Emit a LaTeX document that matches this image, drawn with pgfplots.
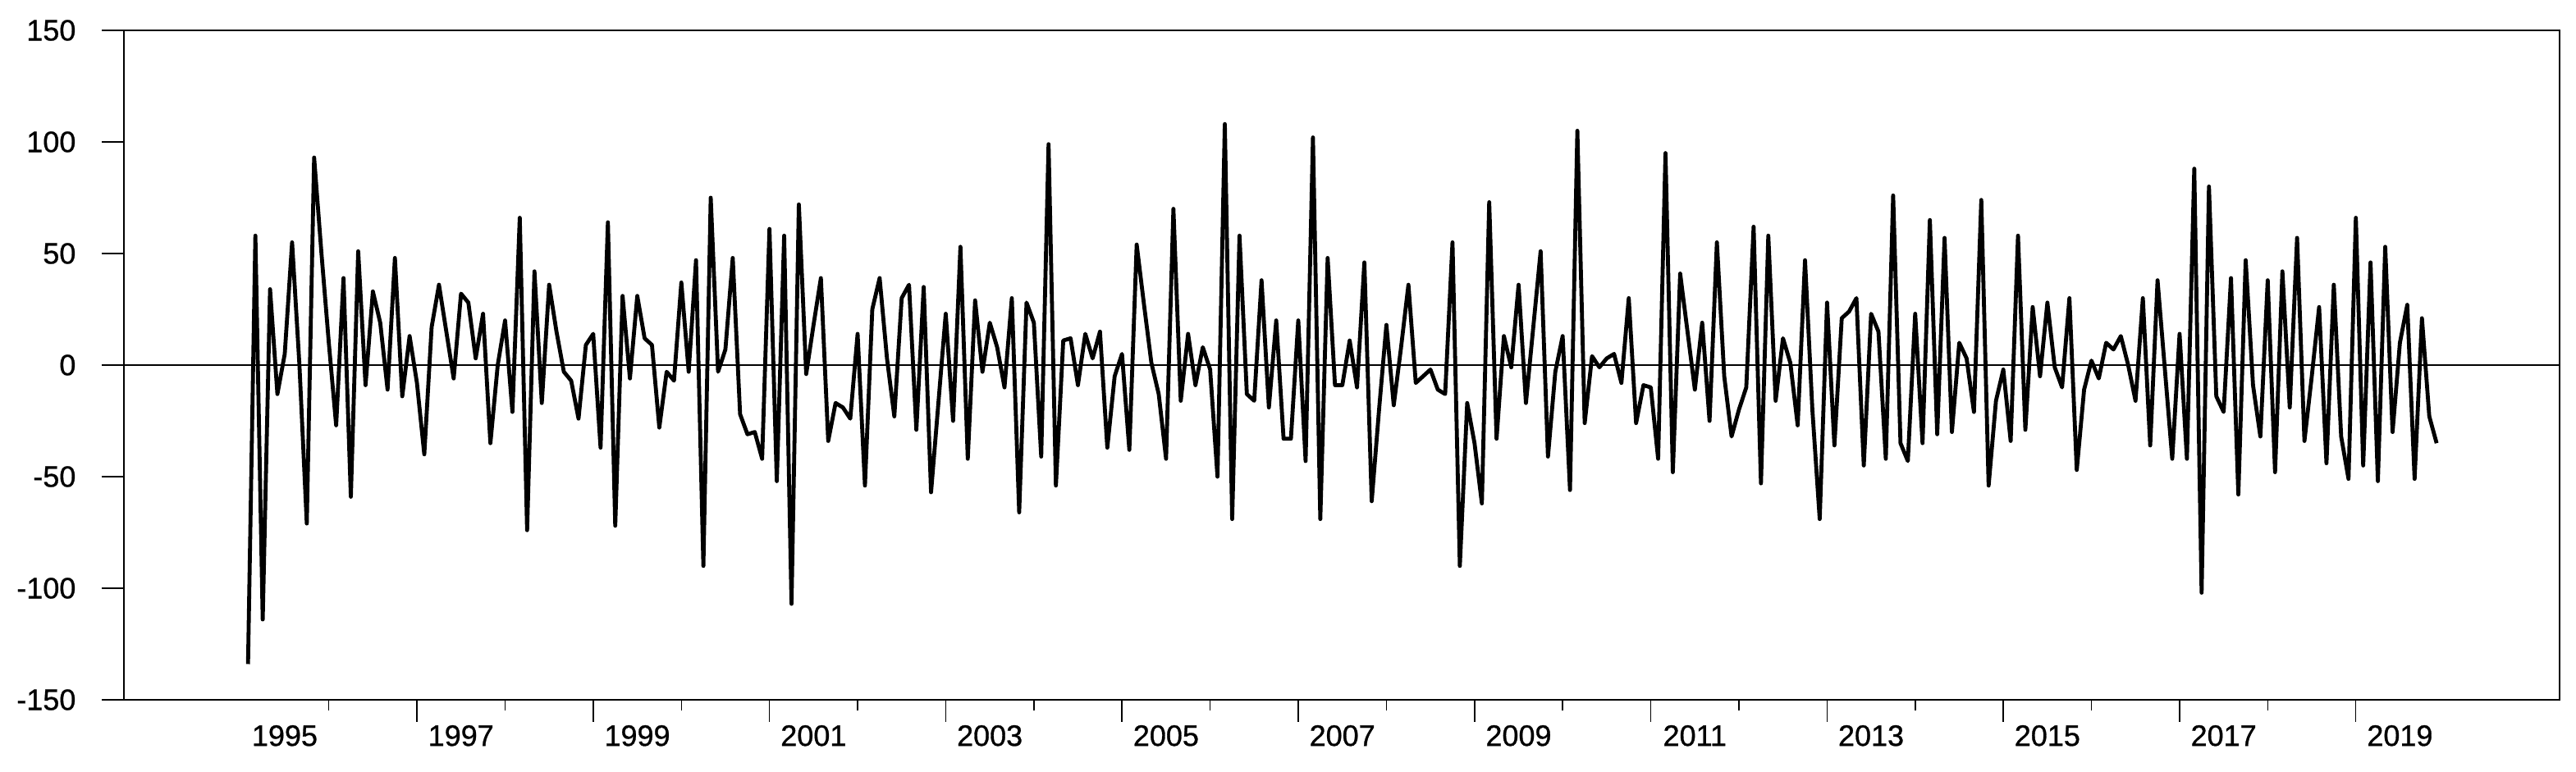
\documentclass[border=0pt]{standalone}
\usepackage{pgfplots}
\pgfplotsset{compat=1.18}
\usepackage{fontspec}
\setmainfont{Liberation Sans}
\newfontfamily\tickfont{Liberation Sans}[FakeBold=0.8]
\begin{document}
\begin{tikzpicture}
\begin{axis}[
  scale only axis, width=989.2pt, height=272pt,
  xmin=-15.9, xmax=315.7, ymin=-150, ymax=150,
  axis line style={black, line width=0.6pt},
  ytick={-150,-100,-50,0,50,100,150},
  yticklabels={-150,-100,-50,0,50,100,150},
  xtick={24,48,...,288},
  xticklabels={},
  minor xtick={12,36,...,276},
  extra x ticks={6,30,...,294},
  extra x tick labels={1995,1997,1999,2001,2003,2005,2007,2009,2011,2013,2015,2017,2019},
  extra x tick style={major tick length=0pt, xticklabel style={yshift=-6.8pt}},
  extra y ticks={0}, extra y tick labels={},
  extra y tick style={grid=major, major grid style={black, line width=0.4pt}, major tick length=0pt},
  tick align=outside,
  xtick pos=left, ytick pos=left,
  major tick length=9pt, minor tick length=4.5pt,
  tick style={black, line width=0.5pt},
  ticklabel style={font=\tickfont\fontsize{12}{14}\selectfont},
  yticklabel style={xshift=-7pt},
]
\addplot[black, line width=1.6pt, line join=round, mark=none] coordinates {
(1,-134) (2,58) (3,-114) (4,34) (5,-13) (6,5) (7,55) (8,0) (9,-71) (10,93)
(11,50) (12,10) (13,-27) (14,39) (15,-59) (16,51) (17,-9) (18,33) (19,19) (20,-11)
(21,48) (22,-14) (23,13) (24,-8) (25,-40) (26,17) (27,36) (28,15) (29,-6) (30,32)
(31,28) (32,3) (33,23) (34,-35) (35,0) (36,20) (37,-21) (38,66) (39,-74) (40,42)
(41,-17) (42,36) (43,15) (44,-3) (45,-7) (46,-24) (47,9) (48,14) (49,-37) (50,64)
(51,-72) (52,31) (53,-6) (54,31) (55,12) (56,9) (57,-28) (58,-3) (59,-7) (60,37)
(61,-3) (62,47) (63,-90) (64,75) (65,-3) (66,7) (67,48) (68,-22) (69,-31) (70,-30)
(71,-42) (72,61) (73,-52) (74,58) (75,-107) (76,72) (77,-4) (78,18) (79,39) (80,-34)
(81,-17) (82,-19) (83,-24) (84,14) (85,-54) (86,25) (87,39) (88,3) (89,-23) (90,30)
(91,36) (92,-29) (93,35) (94,-57) (95,-17) (96,23) (97,-25) (98,53) (99,-42) (100,29)
(101,-3) (102,19) (103,8) (104,-10) (105,30) (106,-66) (107,28) (108,19) (109,-41) (110,99)
(111,-54) (112,11) (113,12) (114,-9) (115,14) (116,3) (117,15) (118,-37) (119,-5) (120,5)
(121,-38) (122,54) (123,27) (124,1) (125,-13) (126,-42) (127,70) (128,-16) (129,14) (130,-9)
(131,8) (132,-2) (133,-50) (134,108) (135,-69) (136,58) (137,-13) (138,-16) (139,38) (140,-19)
(141,20) (142,-33) (143,-33) (144,20) (145,-43) (146,102) (147,-69) (148,48) (149,-9) (150,-9)
(151,11) (152,-10) (153,46) (154,-61) (155,-20) (156,18) (157,-18) (158,8) (159,36) (160,-8)
(161,-5) (162,-2) (163,-11) (164,-13) (165,55) (166,-90) (167,-17) (168,-35) (169,-62) (170,73)
(171,-33) (172,13) (173,-1) (174,36) (175,-17) (176,17) (177,51) (178,-41) (179,-3) (180,13)
(181,-56) (182,105) (183,-26) (184,4) (185,-1) (186,3) (187,5) (188,-8) (189,30) (190,-26)
(191,-9) (192,-10) (193,-42) (194,95) (195,-48) (196,41) (197,15) (198,-11) (199,19) (200,-25)
(201,55) (202,-5) (203,-32) (204,-20) (205,-10) (206,62) (207,-53) (208,58) (209,-16) (210,12)
(211,1) (212,-27) (213,47) (214,-20) (215,-69) (216,28) (217,-36) (218,21) (219,24) (220,30)
(221,-45) (222,23) (223,15) (224,-42) (225,76) (226,-35) (227,-43) (228,23) (229,-35) (230,65)
(231,-31) (232,57) (233,-30) (234,10) (235,3) (236,-21) (237,74) (238,-54) (239,-16) (240,-2)
(241,-34) (242,58) (243,-29) (244,26) (245,-5) (246,28) (247,-1) (248,-10) (249,30) (250,-47)
(251,-11) (252,2) (253,-6) (254,10) (255,7) (256,13) (257,0) (258,-16) (259,30) (260,-36)
(261,38) (262,-2) (263,-42) (264,14) (265,-42) (266,88) (267,-102) (268,80) (269,-14) (270,-21)
(271,39) (272,-58) (273,47) (274,-9) (275,-32) (276,38) (277,-48) (278,42) (279,-19) (280,57)
(281,-34) (282,-5) (283,26) (284,-44) (285,36) (286,-32) (287,-51) (288,66) (289,-45) (290,46)
(291,-52) (292,53) (293,-30) (294,10) (295,27) (296,-51) (297,21) (298,-23) (299,-35)
};
\end{axis}
\pgfresetboundingbox
\path[use as bounding box] ([shift={(-50.33pt,-29.33pt)}]current axis.south west) rectangle ([shift={(6.8pt,12.33pt)}]current axis.north east);
\end{tikzpicture}
\end{document}
